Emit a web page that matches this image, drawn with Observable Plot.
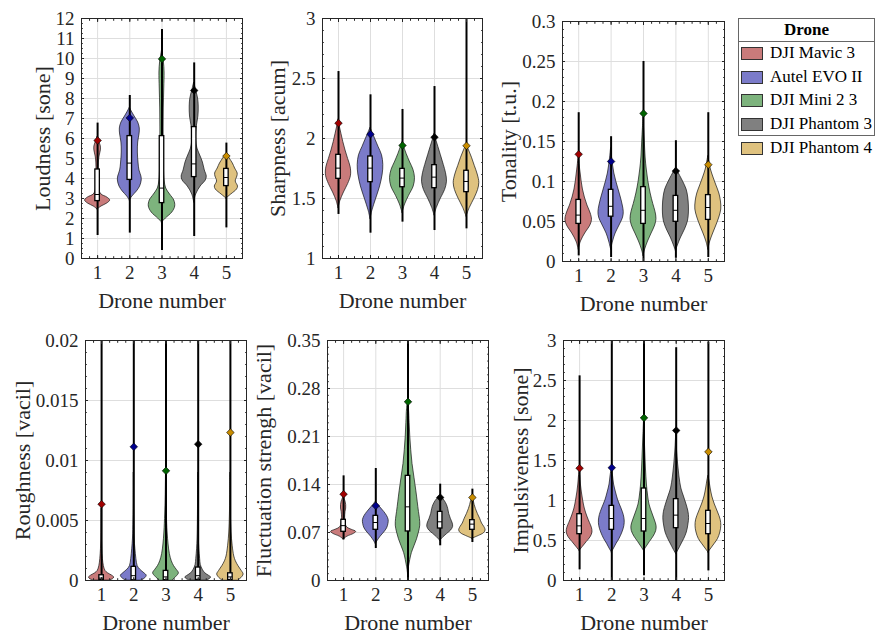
<!DOCTYPE html>
<html><head><meta charset="utf-8">
<script src="https://cdn.jsdelivr.net/npm/d3@7"></script>
<script src="https://cdn.jsdelivr.net/npm/@observablehq/plot@0.6"></script>
<style>
body{margin:0;background:#fff;}
#chart{position:relative;width:875px;height:634px;overflow:hidden;background:#fff;font-family:"Liberation Serif","Times New Roman",serif;color:#262626;}
.panel{position:absolute;}
#legend{position:absolute;left:738px;top:18px;width:137px;height:118px;border:1px solid #666;box-sizing:border-box;background:#fff;}
#legend .title{position:absolute;left:0;right:0;top:0;height:22px;line-height:22px;text-align:center;font-weight:bold;font-size:17px;color:#000;border-bottom:1px solid #666;}
#legend .row{position:absolute;left:2px;height:14px;}
#legend .sw{position:absolute;left:0;top:0;width:22px;height:13px;border:1px solid #333;box-sizing:border-box;}
#legend .lb{position:absolute;left:29px;top:-4px;font-size:17px;line-height:20px;white-space:nowrap;color:#000;}
</style>
</head><body>
<div id="chart"></div>
<script>
// ---------- data ----------
const drones = ["DJI Mavic 3", "Autel EVO II", "DJI Mini 2 3", "DJI Phantom 3", "DJI Phantom 4"];
const droneNumbers = [1, 2, 3, 4, 5];
const fillColors = ["#c97b7b", "#7b7bc9", "#7db37d", "#808080", "#dfc27f"];
const markerColors = ["#a00000", "#00008c", "#006400", "#000000", "#c88c00"];

// Loudness [sone]
const loudnessTicks = [0,1,2,3,4,5,6,7,8,9,10,11,12];
const loudnessMin = [1.15, 1.27, 0.4, 1.1, 1.53];
const loudnessMax = [6.77, 8.15, 11.45, 9.78, 5.77];
const loudnessQ1 = [2.87, 3.93, 2.77, 4.07, 3.62];
const loudnessQ3 = [4.45, 6.12, 6.12, 6.57, 4.48];
const loudnessMedian = [3.2, 4.77, 3.52, 4.73, 4.05];
const loudnessMarker = [5.9, 7.03, 9.98, 8.4, 5.12];
const loudnessViolins = [
  [[2.45,0],[2.6,.12],[2.75,.3],[2.9,.39],[3.05,.3],[3.2,.12],[3.4,.06],[3.8,.04],[4.3,.035],[4.8,.04],[5.1,.06],[5.4,.1],[5.6,.1],[5.8,.06],[6.0,.02],[6.1,0]],
  [[2.9,0],[3.1,.08],[3.35,.22],[3.6,.32],[3.9,.37],[4.1,.36],[4.4,.3],[4.8,.27],[5.3,.25],[5.8,.26],[6.2,.3],[6.5,.31],[6.8,.26],[7.1,.15],[7.35,.06],[7.55,0]],
  [[1.8,0],[2.0,.12],[2.3,.32],[2.6,.41],[2.9,.38],[3.2,.25],[3.5,.13],[3.9,.08],[4.5,.06],[5.5,.05],[6.5,.05],[7.5,.055],[8.5,.07],[9.3,.08],[9.8,.06],[10.2,.02],[10.4,0]],
  [[2.8,0],[3.2,.06],[3.6,.2],[3.9,.36],[4.1,.39],[4.4,.33],[4.8,.27],[5.1,.2],[5.5,.1],[5.9,.06],[6.3,.06],[6.7,.09],[7.1,.13],[7.6,.14],[8.0,.12],[8.4,.06],[8.8,0]],
  [[3.0,0],[3.2,.15],[3.45,.33],[3.6,.36],[3.85,.29],[4.1,.34],[4.25,.35],[4.5,.27],[4.75,.2],[5.0,.1],[5.25,0]]
];

// Sharpness [acum]
const sharpnessTicks = [1, 1.5, 2, 2.5, 3];
const sharpnessMin = [1.367, 1.211, 1.303, 1.233, 1.247];
const sharpnessMax = [2.558, 2.364, 2.242, 2.433, 3.2];
const sharpnessQ1 = [1.664, 1.636, 1.594, 1.586, 1.553];
const sharpnessQ3 = [1.864, 1.85, 1.747, 1.778, 1.731];
const sharpnessMedian = [1.753, 1.753, 1.67, 1.678, 1.642];
const sharpnessMarker = [2.128, 2.036, 1.942, 2.011, 1.939];
const sharpnessViolins = [
  [[1.42,0],[1.48,.06],[1.55,.17],[1.62,.3],[1.69,.39],[1.76,.38],[1.83,.3],[1.9,.22],[1.97,.15],[2.04,.09],[2.1,.04],[2.16,0]],
  [[1.33,0],[1.4,.06],[1.5,.18],[1.6,.3],[1.7,.38],[1.78,.4],[1.86,.36],[1.93,.25],[2.0,.14],[2.05,.06],[2.09,0]],
  [[1.38,0],[1.45,.08],[1.52,.2],[1.6,.35],[1.67,.39],[1.74,.34],[1.8,.24],[1.87,.13],[1.93,.05],[1.97,0]],
  [[1.36,0],[1.42,.07],[1.5,.2],[1.57,.33],[1.64,.39],[1.71,.36],[1.78,.29],[1.86,.2],[1.93,.12],[1.99,.05],[2.04,0]],
  [[1.35,0],[1.42,.1],[1.5,.25],[1.57,.36],[1.63,.4],[1.7,.35],[1.77,.26],[1.84,.17],[1.9,.08],[1.95,0]]
];

// Tonality [t.u.]
const tonalityTicks = [0, 0.05, 0.1, 0.15, 0.2, 0.25, 0.3];
const tonalityMin = [0.007, 0.005, 0, 0.004, 0.005];
const tonalityMax = [0.186, 0.156, 0.25, 0.151, 0.186];
const tonalityQ1 = [0.047, 0.056, 0.047, 0.0496, 0.052];
const tonalityQ3 = [0.077, 0.0896, 0.093, 0.082, 0.083];
const tonalityMedian = [0.058, 0.069, 0.064, 0.064, 0.0675];
const tonalityMarker = [0.134, 0.125, 0.185, 0.113, 0.121];
const tonalityViolins = [
  [[.015,0],[.025,.07],[.035,.2],[.045,.36],[.052,.41],[.06,.37],[.07,.27],[.08,.19],[.09,.13],[.1,.09],[.11,.06],[.12,.03],[.133,0]],
  [[.015,0],[.025,.06],[.035,.14],[.045,.26],[.055,.37],[.062,.39],[.07,.36],[.08,.3],[.09,.23],[.1,.16],[.11,.1],[.12,.06],[.13,.03],[.142,0]],
  [[.007,0],[.015,.05],[.025,.14],[.035,.25],[.045,.36],[.053,.4],[.062,.37],[.072,.3],[.085,.22],[.1,.15],[.115,.1],[.13,.065],[.15,.04],[.165,.02],[.18,0]],
  [[.013,0],[.02,.06],[.03,.16],[.04,.28],[.05,.37],[.06,.4],[.07,.4],[.08,.38],[.09,.33],[.1,.22],[.107,.13],[.113,.05],[.117,0]],
  [[.015,0],[.025,.06],[.035,.15],[.045,.25],[.055,.34],[.065,.4],[.075,.39],[.085,.34],[.095,.25],[.105,.16],[.115,.08],[.125,.03],[.132,0]]
];

// Roughness [vacil]
const roughnessTicks = [0, 0.005, 0.01, 0.015, 0.02];
const roughnessMin = [0, 0, 0, 0, 0];
const roughnessMax = [0.026, 0.031, 0.029, 0.033, 0.028];
const roughnessQ1 = [0.00005, 0.00002, 0.00003, 0.00005, 0.00003];
const roughnessQ3 = [0.00044, 0.00114, 0.0008, 0.00108, 0.0006];
const roughnessMedian = [0.0002, 0.0004, 0.0003, 0.0004, 0.0003];
const roughnessMarker = [0.00636, 0.01114, 0.00914, 0.01136, 0.01233];
const roughnessViolins = [
  [[0,.22],[.0001,.35],[.00025,.39],[.0004,.33],[.0006,.2],[.0008,.12],[.0012,.07],[.0018,.04],[.0026,.02],[.0035,.01],[.0045,.005],[.006,0]],
  [[0,.25],[.0002,.36],[.0004,.4],[.0006,.33],[.0009,.2],[.0012,.12],[.0018,.08],[.0026,.05],[.0035,.025],[.005,.012],[.007,.005],[.009,0]],
  [[0,.2],[.0003,.32],[.0006,.4],[.0009,.33],[.0012,.25],[.0016,.18],[.0022,.12],[.003,.08],[.004,.05],[.0055,.025],[.007,.01],[.009,0]],
  [[0,.25],[.0001,.35],[.00025,.4],[.0004,.33],[.0006,.22],[.0009,.14],[.0013,.08],[.0018,.06],[.0026,.035],[.0035,.02],[.005,.01],[.007,.004],[.009,0]],
  [[0,.25],[.0002,.34],[.0005,.41],[.0008,.35],[.0012,.25],[.0016,.17],[.002,.12],[.0029,.07],[.004,.035],[.0055,.015],[.007,.005],[.009,0]]
];

// Fluctuation strength [vacil]
const fluctuationTicks = [0, 0.07, 0.14, 0.21, 0.28, 0.35];
const fluctuationMin = [0.0593, 0.0467, 0, 0.0506, 0.0554];
const fluctuationMax = [0.1526, 0.1633, 0.37, 0.1405, 0.1332];
const fluctuationQ1 = [0.071, 0.0739, 0.0715, 0.0758, 0.0739];
const fluctuationQ3 = [0.0885, 0.0943, 0.1526, 0.1001, 0.088];
const fluctuationMedian = [0.08, 0.0846, 0.1074, 0.0856, 0.0822];
const fluctuationMarker = [0.1259, 0.1089, 0.2606, 0.121, 0.121];
const fluctuationViolins = [
  [[.06,0],[.064,.12],[.068,.32],[.071,.39],[.074,.25],[.077,.12],[.081,.07],[.088,.05],[.095,.05],[.1,.06],[.105,.08],[.11,.08],[.115,.06],[.12,.02],[.123,0]],
  [[.053,0],[.058,.06],[.064,.15],[.07,.26],[.076,.35],[.082,.39],[.088,.4],[.094,.35],[.1,.26],[.105,.17],[.11,.08],[.115,0]],
  [[.01,0],[.02,.03],[.03,.07],[.04,.12],[.05,.2],[.06,.28],[.07,.34],[.08,.38],[.09,.37],[.1,.34],[.115,.3],[.13,.26],[.15,.2],[.17,.14],[.19,.1],[.21,.07],[.23,.05],[.25,.03],[.262,0]],
  [[.058,0],[.063,.1],[.068,.22],[.073,.34],[.078,.4],[.083,.39],[.09,.33],[.097,.28],[.104,.25],[.11,.21],[.116,.14],[.12,.07],[.124,0]],
  [[.061,0],[.065,.2],[.069,.36],[.073,.41],[.078,.37],[.083,.3],[.09,.24],[.097,.17],[.104,.11],[.11,.07],[.116,.04],[.121,0]]
];

// Impulsiveness [sone]
const impulsivenessTicks = [0, 0.5, 1, 1.5, 2, 2.5, 3];
const impulsivenessMin = [0.133, 0, 0.058, 0, 0.12];
const impulsivenessMax = [2.558, 3.3, 3.3, 2.91, 2.98];
const impulsivenessQ1 = [0.579, 0.633, 0.6125, 0.654, 0.579];
const impulsivenessQ3 = [0.829, 0.933, 1.15, 1.017, 0.871];
const impulsivenessMedian = [0.683, 0.775, 0.775, 0.817, 0.7125];
const impulsivenessMarker = [1.404, 1.41, 2.033, 1.875, 1.608];
const impulsivenessViolins = [
  [[.37,0],[.42,.1],[.48,.22],[.54,.34],[.6,.4],[.66,.38],[.72,.32],[.8,.24],[.9,.16],[1.0,.11],[1.1,.07],[1.2,.04],[1.3,.02],[1.36,0]],
  [[.35,0],[.4,.07],[.46,.15],[.52,.24],[.6,.33],[.68,.39],[.75,.4],[.82,.37],[.9,.3],[1.0,.2],[1.1,.13],[1.2,.07],[1.3,.04],[1.41,0]],
  [[.37,0],[.42,.08],[.48,.18],[.55,.3],[.62,.38],[.68,.39],[.75,.34],[.85,.25],[.95,.17],[1.05,.13],[1.2,.09],[1.4,.06],[1.6,.04],[1.8,.02],[2.0,0]],
  [[.33,0],[.38,.07],[.45,.16],[.52,.25],[.6,.33],[.7,.38],[.78,.4],[.86,.38],[.95,.32],[1.05,.24],[1.15,.16],[1.3,.1],[1.45,.06],[1.6,.03],[1.75,.01],[1.85,0]],
  [[.35,0],[.4,.09],[.46,.2],[.52,.3],[.6,.37],[.68,.4],[.76,.38],[.85,.3],[.95,.2],[1.05,.12],[1.15,.07],[1.25,.03],[1.31,0]]
];

// ---------- panels (layout) ----------
const panels = [
  {label: "Loudness [sone]", fx: 81, fy: 18, fw: 161, lo: 39, domain: [0, 12], ticks: loudnessTicks, minor: 0.25,
   min: loudnessMin, max: loudnessMax, q1: loudnessQ1, q3: loudnessQ3, med: loudnessMedian, mark: loudnessMarker, violins: loudnessViolins},
  {label: "Sharpness [acum]", fx: 322, fy: 18, fw: 160, lo: 45, domain: [1, 3], ticks: sharpnessTicks, minor: 0.1,
   min: sharpnessMin, max: sharpnessMax, q1: sharpnessQ1, q3: sharpnessQ3, med: sharpnessMedian, mark: sharpnessMarker, violins: sharpnessViolins},
  {label: "Tonality [t.u.]", fx: 562, fy: 21, fw: 162, lo: 54, domain: [0, 0.3], ticks: tonalityTicks, minor: 0.01,
   min: tonalityMin, max: tonalityMax, q1: tonalityQ1, q3: tonalityQ3, med: tonalityMedian, mark: tonalityMarker, violins: tonalityViolins},
  {label: "Roughness [vacil]", fx: 85, fy: 340, fw: 161, lo: 63, domain: [0, 0.02], ticks: roughnessTicks, minor: 0.001,
   min: roughnessMin, max: roughnessMax, q1: roughnessQ1, q3: roughnessQ3, med: roughnessMedian, mark: roughnessMarker, violins: roughnessViolins},
  {label: "Fluctuation strengh [vacil]", fx: 327, fy: 340, fw: 161, lo: 64, domain: [0, 0.35], ticks: fluctuationTicks, minor: 0.01,
   min: fluctuationMin, max: fluctuationMax, q1: fluctuationQ1, q3: fluctuationQ3, med: fluctuationMedian, mark: fluctuationMarker, violins: fluctuationViolins},
  {label: "Impulsiveness [sone]", fx: 563, fy: 340, fw: 161, lo: 43, domain: [0, 3], ticks: impulsivenessTicks, minor: 0.1,
   min: impulsivenessMin, max: impulsivenessMax, q1: impulsivenessQ1, q3: impulsivenessQ3, med: impulsivenessMedian, mark: impulsivenessMarker, violins: impulsivenessViolins}
];

const chart = document.getElementById("chart");
const mL = 90, mR = 12, mT = 10, mB = 62, FH = 240;
const boxHalf = 0.07;
const xMinor = d3.range(0.5, 5.5001, 0.25);

for (const p of panels) {
  const rows = [];
  p.violins.forEach((prof, i) => prof.forEach(([y, w]) => rows.push({drone: droneNumbers[i], y, w, fill: fillColors[i]})));
  const stats = droneNumbers.map((d, i) => ({drone: d, min: p.min[i], max: p.max[i], q1: p.q1[i], q3: p.q3[i], med: p.med[i], mark: p.mark[i], mcolor: markerColors[i]}));
  const yMinor = d3.range(p.domain[0], p.domain[1] + p.minor / 2, p.minor);
  const fmt = d => String(d);
  const svg = Plot.plot({
    width: p.fw + mL + mR, height: FH + mT + mB,
    marginLeft: mL, marginRight: mR, marginTop: mT, marginBottom: mB,
    style: {fontFamily: "'Liberation Serif', 'Times New Roman', serif", fontSize: "19px", color: "#262626", background: "transparent", overflow: "visible"},
    x: {domain: [0.5, 5.5]},
    y: {domain: p.domain},
    color: {type: "identity"},
    marks: [
      Plot.gridY(p.ticks, {stroke: "#dedede", strokeOpacity: 1}),
      Plot.gridX(droneNumbers, {stroke: "#dedede", strokeOpacity: 1}),
      Plot.areaX(rows, {y: "y", x1: d => d.drone - d.w, x2: d => d.drone + d.w, z: "drone", fill: "fill", stroke: "#111", strokeWidth: 0.7, curve: "catmull-rom", clip: true}),
      Plot.ruleX(stats, {x: "drone", y1: "min", y2: "max", stroke: "#000", strokeWidth: 2, clip: true}),
      Plot.rect(stats, {x1: d => d.drone - boxHalf, x2: d => d.drone + boxHalf, y1: "q1", y2: "q3", fill: "#fff", stroke: "#000", strokeWidth: 1.3, clip: true}),
      Plot.ruleY(stats, {y: "med", x1: d => d.drone - boxHalf, x2: d => d.drone + boxHalf, stroke: "#000", strokeWidth: 1}),
      Plot.dot(stats, {x: "drone", y: "mark", symbol: "diamond2", r: 3.4, fill: "mcolor", stroke: "#000", strokeWidth: 0.6}),
      Plot.axisY(yMinor, {anchor: "left", tickSize: -1.8, fill: "none", label: null, stroke: "#262626"}),
      Plot.axisY(yMinor, {anchor: "right", tickSize: -1.8, fill: "none", label: null, stroke: "#262626"}),
      Plot.axisY(p.ticks, {anchor: "right", tickSize: -3, fill: "none", label: null, stroke: "#262626"}),
      Plot.axisY(p.ticks, {anchor: "left", tickSize: -3, tickPadding: 10, tickFormat: fmt, fontSize: 19, label: null, stroke: "#262626", fill: "#262626"}),
      Plot.axisX(xMinor, {anchor: "top", tickSize: -1.8, fill: "none", label: null, stroke: "#262626"}),
      Plot.axisX(xMinor, {anchor: "bottom", tickSize: -1.8, fill: "none", label: null, stroke: "#262626"}),
      Plot.axisX(droneNumbers, {anchor: "top", tickSize: -3, fill: "none", label: null, stroke: "#262626"}),
      Plot.axisX(droneNumbers, {anchor: "bottom", tickSize: -3, tickPadding: 10, tickFormat: fmt, fontSize: 19, label: null, stroke: "#262626", fill: "#262626"}),
      Plot.frame({stroke: "#262626", strokeWidth: 1}),
      Plot.text([p.label], {frameAnchor: "left", dx: -p.lo, rotate: -90, textAnchor: "middle", lineAnchor: "middle", fontSize: 22, fill: "#262626"}),
      Plot.text(["Drone number"], {frameAnchor: "bottom", dy: 42, textAnchor: "middle", lineAnchor: "middle", fontSize: 22, fill: "#262626"})
    ]
  });
  const div = document.createElement("div");
  div.className = "panel";
  div.style.left = (p.fx - mL) + "px";
  div.style.top = (p.fy - mT) + "px";
  div.style.width = (p.fw + mL + mR) + "px";
  div.appendChild(svg);
  chart.appendChild(div);
}

// legend
const legend = document.createElement("div");
legend.id = "legend";
const title = document.createElement("div");
title.className = "title";
title.textContent = "Drone";
legend.appendChild(title);
drones.forEach((name, i) => {
  const row = document.createElement("div");
  row.className = "row";
  row.style.top = (28 + i * 23.7) + "px";
  const sw = document.createElement("div");
  sw.className = "sw";
  sw.style.background = fillColors[i];
  const lb = document.createElement("div");
  lb.className = "lb";
  lb.textContent = name;
  row.appendChild(sw); row.appendChild(lb);
  legend.appendChild(row);
});
chart.appendChild(legend);
</script>
</body></html>
